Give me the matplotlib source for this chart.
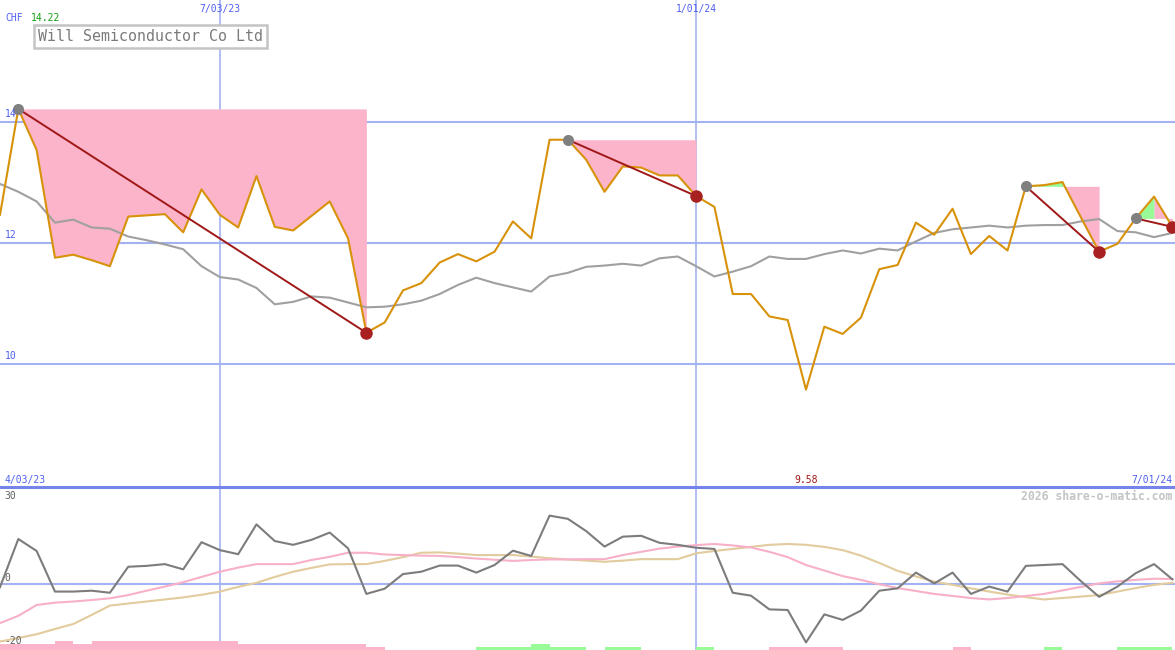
import numpy as np
import pandas as pd
import matplotlib
matplotlib.use("Agg")
import matplotlib.pyplot as plt

# weekly closes (CHF)
price = [12.47, 14.22, 13.54, 11.76, 11.81, 11.72, 11.62, 12.44, 12.46, 12.48,
         12.18, 12.89, 12.47, 12.26, 13.11, 12.27, 12.21, 12.45, 12.69, 12.08,
         10.52, 10.69, 11.22, 11.34, 11.68, 11.82, 11.70, 11.86, 12.36, 12.08,
         13.71, 13.71, 13.38, 12.85, 13.27, 13.25, 13.12, 13.12, 12.78, 12.60,
         11.16, 11.16, 10.79, 10.73, 9.58, 10.62, 10.50, 10.77, 11.57, 11.64,
         12.34, 12.14, 12.57, 11.82, 12.12, 11.88, 12.94, 12.96, 13.01, 12.43,
         11.86, 11.99, 12.41, 12.77, 12.27]

# moving average (grey line)
ma = [12.98, 12.85, 12.69, 12.34, 12.39, 12.26, 12.24, 12.11, 12.05, 11.98,
      11.90, 11.62, 11.44, 11.40, 11.26, 10.99, 11.03, 11.12, 11.10, 11.02,
      10.94, 10.95, 10.99, 11.05, 11.16, 11.31, 11.43, 11.34, 11.27, 11.20,
      11.45, 11.51, 11.61, 11.63, 11.66, 11.63, 11.75, 11.78, 11.62, 11.45,
      11.53, 11.62, 11.78, 11.74, 11.74, 11.82, 11.88, 11.83, 11.91, 11.88,
      12.03, 12.17, 12.23, 12.26, 12.29, 12.26, 12.29, 12.30, 12.30, 12.36,
      12.40, 12.20, 12.18, 12.10, 12.17]

# lower panel: momentum and its two smoothed versions
mom = [-1.2, 15.3, 11.2, -2.7, -2.7, -2.4, -3.1, 5.8, 6.1, 6.7,
       4.9, 14.2, 11.5, 10.1, 20.3, 14.6, 13.3, 15.0, 17.5, 12.1,
       -3.5, -1.7, 3.3, 4.1, 6.2, 6.2, 3.8, 6.4, 11.3, 9.5,
       23.3, 22.2, 18.0, 12.7, 16.1, 16.4, 14.0, 13.3, 12.3, 11.9,
       -3.1, -4.1, -8.8, -9.0, -20.1, -10.5, -12.4, -9.2, -2.4, -1.6,
       3.8, 0.1, 3.8, -3.5, -1.0, -2.7, 6.1, 6.4, 6.7, 0.9,
       -4.5, -1.0, 3.6, 6.7, 1.5]

mom_fast = [-13.5, -11.0, -7.3, -6.5, -6.1, -5.6, -5.0, -3.9, -2.4, -1.0,
            0.5, 2.3, 4.1, 5.5, 6.7, 6.7, 6.7, 8.1, 9.2, 10.6,
            10.6, 10.0, 9.8, 9.6, 9.5, 9.1, 8.6, 8.2, 7.8, 8.1,
            8.3, 8.3, 8.4, 8.4, 9.8, 10.9, 12.0, 12.7, 13.2, 13.6,
            13.1, 12.4, 10.9, 9.1, 6.4, 4.5, 2.6, 1.3, -0.2, -1.5,
            -2.5, -3.5, -4.2, -4.9, -5.4, -4.9, -4.2, -3.5, -2.3, -1.1,
            0.1, 0.8, 1.3, 1.7, 1.6]

mom_slow = [-19.8, -18.6, -17.3, -15.5, -13.8, -10.7, -7.5, -6.8, -6.1, -5.4,
            -4.7, -3.8, -2.7, -1.1, 0.3, 2.3, 4.1, 5.4, 6.6, 6.7,
            6.7, 7.8, 9.1, 10.6, 10.7, 10.3, 9.8, 9.8, 9.8, 9.3,
            8.7, 8.3, 7.9, 7.5, 7.9, 8.4, 8.4, 8.4, 10.4, 11.2,
            11.9, 12.6, 13.3, 13.6, 13.3, 12.6, 11.5, 9.6, 7.1, 4.4,
            2.5, 0.7, -0.4, -1.6, -2.7, -3.7, -4.6, -5.4, -4.9, -4.4,
            -3.9, -2.7, -1.5, -0.4, 0.3]

# signal bars at the bottom: height, and 1 = green / -1 = pink / 0 = none
bar_h = [2, 2, 2, 3, 2, 3, 3, 3, 3, 3,
         3, 3, 3, 2, 2, 2, 2, 2, 2, 2,
         1, 0, 0, 0, 0, 0, 1, 1, 1, 2,
         1, 1, 0, 1, 1, 0, 0, 0, 1, 0,
         0, 0, 1, 1, 1, 1, 0, 0, 0, 0,
         0, 0, 1, 0, 0, 0, 0, 1, 0, 0,
         0, 1, 1, 1, 0]
bar_sign = [-1, -1, -1, -1, -1, -1, -1, -1, -1, -1,
            -1, -1, -1, -1, -1, -1, -1, -1, -1, -1,
            -1, 0, 0, 0, 0, 0, 1, 1, 1, 1,
            1, 1, 0, 1, 1, 0, 0, 0, 1, 0,
            0, 0, -1, -1, -1, -1, 0, 0, 0, 0,
            0, 0, -1, 0, 0, 0, 0, 1, 0, 0,
            0, 1, 1, 1, 0]

# drawdowns: (peak week, trough week)
drawdowns = [(1, 20), (31, 38), (56, 60), (62, 64)]

dates = pd.date_range("2023-04-10", periods=len(price), freq="W-MON")
mid_dates = ["2023-07-03", "2024-01-01"]
mid_labels = ["7/03/23", "1/01/24"]
start_label = "4/03/23"
end_label = "7/01/24"
title = "Will Semiconductor Co Ltd"

GRID = "#a3b2f2"
BLUE = "#4f5ff0"
PINK = "#fbb4c9"
GREEN = "#98fb98"
MONO = "DejaVu Sans Mono"

W, H = 1175, 650
fig = plt.figure(figsize=(W / 100, H / 100), dpi=100)
fig.patch.set_facecolor("white")

ax = fig.add_axes([0, 163 / H, 1, 487 / H])
ax2 = fig.add_axes([0, 0, 1, 163 / H])
for a in (ax, ax2):
    a.set_axis_off()
    a.set_xlim(dates[0], dates[-1] + pd.Timedelta(days=1))
ax.set_ylim(7.97, 16.02)
ax2.set_ylim(-22.7, 33.1)

price = np.array(price)
x = dates

# grid
for lv in (10, 12, 14):
    ax.axhline(lv, color=GRID, lw=1.5, zorder=0)
    ax.text(0.004, lv + 0.06, str(lv), transform=ax.get_yaxis_transform(),
            color=BLUE, fontsize=7, family=MONO, va="bottom", zorder=6)
for d in mid_dates:
    ax.axvline(pd.Timestamp(d), color=GRID, lw=1.2, zorder=0)
    ax2.axvline(pd.Timestamp(d), color=GRID, lw=1.2, zorder=0)

# drawdown shading
for a, b in drawdowns:
    lvl = price[a]
    m = a + int(np.argmax(price[a:b + 1]))
    if m > a:
        ax.fill_between(x[a:m + 1], lvl, price[a:m + 1], color=GREEN, lw=0, zorder=1)
    ax.fill_between(x[m:b + 1], lvl, price[m:b + 1], color=PINK, lw=0, zorder=1)

ax.plot(x, ma, color="#a0a0a0", lw=1.5, zorder=2)
ax.plot(x, price, color="#d8920a", lw=1.5, zorder=3)

for a, b in drawdowns:
    ax.plot([x[a], x[b]], [price[a], price[b]], color="#a01818", lw=1.4, zorder=4)
    ax.plot(x[a], price[a], "o", ms=8, color="#808080", mec="none", zorder=5)
    ax.plot(x[b], price[b], "o", ms=9, color="#a82020", mec="none", zorder=5)

# header texts
fig.text(5 / W, 1 - 21 / H, "CHF", color=BLUE, fontsize=7, family=MONO, va="baseline")
fig.text(31 / W, 1 - 21 / H, f"{price.max():.2f}", color="#10a010", fontsize=7,
         family=MONO, va="baseline")
fig.text(38 / W, 1 - 36.5 / H, title, color="#7a7a7a", fontsize=10.8, family=MONO,
         va="center", ha="left",
         bbox=dict(boxstyle="square,pad=0.25", fc="white", ec="#c4c4c4", lw=1.8))
for d, lab in zip(mid_dates, mid_labels):
    ax.text(pd.Timestamp(d), 1 - 9 / 487, lab, transform=ax.get_xaxis_transform(),
            color=BLUE, fontsize=7, family=MONO, ha="center", va="center")

ax.text(0.004, 7 / 487, start_label, transform=ax.transAxes, color=BLUE,
        fontsize=7, family=MONO, va="center")
ax.text(0.998, 7 / 487, end_label, transform=ax.transAxes, color=BLUE,
        fontsize=7, family=MONO, va="center", ha="right")
lo = int(np.argmin(price))
ax.text(x[lo], 7 / 487, f"{price[lo]:.2f}", transform=ax.get_xaxis_transform(),
        color="#a01818", fontsize=7, family=MONO, va="center", ha="center")

# separator between panels
ax2.axhline(33.1, color="#7484ea", lw=2.2, clip_on=False, zorder=6)

# lower panel
ax2.axhline(0, color=GRID, lw=1.5, zorder=0)
ax2.text(0.004, 30, "30", transform=ax2.get_yaxis_transform(), color="#606060",
         fontsize=7, family=MONO, va="center")
ax2.text(0.004, 1.8, "0", transform=ax2.get_yaxis_transform(), color="#606060",
         fontsize=7, family=MONO, va="center")
ax2.text(0.004, -19.5, "-20", transform=ax2.get_yaxis_transform(), color="#606060",
         fontsize=7, family=MONO, va="center")
ax2.text(0.998, 1 - 9 / 163, "2026 share-o-matic.com", transform=ax2.transAxes,
         color="#c4c4c4", fontsize=8.3, family=MONO, fontweight="bold",
         ha="right", va="center")

bar_cols = [GREEN if s > 0 else PINK for s in bar_sign]
ax2.bar(x, bar_h, bottom=-22.7, width=7, align="edge", color=bar_cols, lw=0, zorder=1)

ax2.plot(x, mom_slow, color="#e2cb9c", lw=1.5, zorder=2)
ax2.plot(x, mom_fast, color="#f8b0c8", lw=1.5, zorder=2)
ax2.plot(x, mom, color="#7c7c7c", lw=1.5, zorder=3)

fig.savefig("out.png", dpi=100, facecolor="white")
